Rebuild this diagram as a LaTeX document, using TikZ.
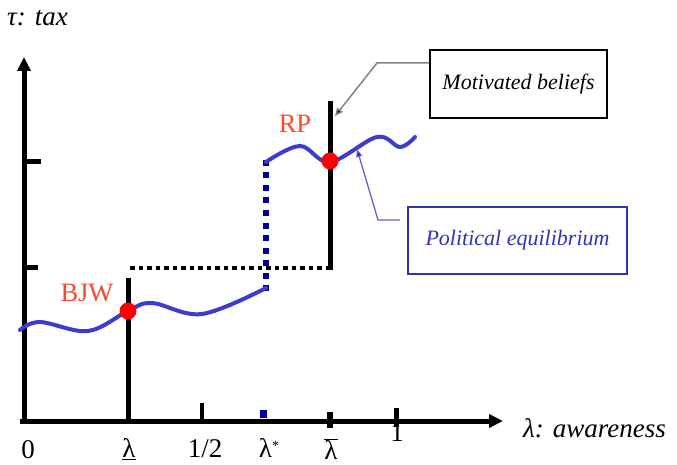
\documentclass[tikz,border=0pt]{standalone}
\usepackage{fontspec}
\setmainfont{Liberation Serif}
\usetikzlibrary{arrows.meta}
\definecolor{curveblue}{RGB}{60,60,205}
\definecolor{navy}{RGB}{0,0,150}
\definecolor{lblred}{RGB}{255,70,40}
\definecolor{boxblue}{RGB}{50,50,185}
\definecolor{callgray}{RGB}{130,130,130}
\definecolor{callblue}{RGB}{100,100,190}
\tikzset{
  axis/.style={line width=5pt, -{Triangle[length=14pt,width=13pt]}},
  thick5/.style={line width=5pt},
  wave/.style={line width=4pt, curveblue, line cap=round},
  blackdots/.style={line width=4.5pt, dash pattern=on 4.5pt off 4pt},
  bluedots/.style={line width=6pt, navy, dash pattern=on 6pt off 6.5pt},
  eqdot/.style={circle, fill=red, minimum size=17pt, inner sep=0pt},
  tlabel/.style={font=\fontsize{27}{29}\selectfont, inner sep=0pt},
  plabel/.style={font=\fontsize{26.5}{28}\selectfont, text=lblred, inner sep=0pt},
  callbox/.style={draw, line width=1.5pt, font=\fontsize{22}{24}\selectfont\itshape, inner sep=0pt},
}
\begin{document}
\begin{tikzpicture}[x=1pt,y=-1pt]
\useasboundingbox (0,0) rectangle (677,465);
% axes
\coordinate (o) at (20,421);
\coordinate (ytop) at (24,57);
\coordinate (xend) at (503,421);
\coordinate (ybot) at (24,423.5);
\draw[axis] (ybot) -- (ytop);
\draw[axis] (o) -- (xend);
% y ticks
\coordinate (yt1a) at (24,162); \coordinate (yt1b) at (41,162);
\coordinate (yt2a) at (24,267); \coordinate (yt2b) at (38,267);
\draw[thick5] (yt1a) -- (yt1b);
\draw[thick5] (yt2a) -- (yt2b);
% x ticks
\coordinate (th1) at (202,403); \coordinate (th2) at (202,421);
\draw[line width=3.5pt] (th1) -- (th2);
\fill[navy] (259.5,410) rectangle (267,418);
\coordinate (tb1) at (330,412); \coordinate (tb2) at (330,428);
\draw[line width=5.5pt] (tb1) -- (tb2);
\coordinate (t11) at (396,408); \coordinate (t12) at (396,427);
\draw[line width=5pt] (t11) -- (t12);
% lambda underline vertical
\coordinate (lu1) at (128,278); \coordinate (lu2) at (128,421);
\draw[thick5] (lu1) -- (lu2);
% black dotted horizontal
\coordinate (bd1) at (130,268); \coordinate (bd2) at (330,268);
\draw[blackdots] (bd1) -- (bd2);
% lambda bar vertical
\coordinate (lb1) at (330,101); \coordinate (lb2) at (330,270);
\draw[thick5] (lb1) -- (lb2);
% blue dotted vertical
\coordinate (bv1) at (266,160); \coordinate (bv2) at (266,292);
\draw[bluedots] (bv1) -- (bv2);
% wavy curves
\draw[wave] plot[smooth, tension=0.6] coordinates {(20,330) (40,322) (88,331) (128,311) (152,303) (202,314) (266,288)};
\draw[wave] plot[smooth, tension=0.6] coordinates {(266,162) (300,146) (330,162) (377,137) (400,147) (415,137)};
% equilibrium dots
\node[eqdot] (bjw) at (128,311) {};
\node[eqdot] (rp) at (330,161) {};
\node[plabel] (bjwl) at (87,293) {BJW};
\node[plabel] (rpl) at (295,124) {RP};
% axis labels
\node[tlabel, anchor=west] (tau) at (7,18) {\itshape τ: tax};
\node[tlabel, anchor=west] (aw) at (523,428) {\itshape λ: awareness};
\node[tlabel] (l0) at (28,450) {0};
\node[tlabel] (lu) at (129,449) {\underline{λ}};
\node[tlabel] (lh) at (205,449) {1/2};
\node[tlabel] (ls) at (269,448) {λ\raisebox{7pt}{\fontsize{14}{14}\selectfont *}};
\node[tlabel] (lbar) at (331,449) {$\overline{\hbox{λ}}$};
\node[tlabel] (l1) at (397,433) {1};
% callout boxes
\node[callbox, minimum width=177pt, minimum height=68pt] (mb) at (518.5,84) {Motivated beliefs};
\node[callbox, draw=boxblue, text=boxblue, minimum width=219pt, minimum height=67pt] (pe) at (517.5,240.5) {Political equilibrium};
% callout lines
\coordinate (mk) at (377,63);
\coordinate (mt) at (335,116);
\draw[callgray, line width=1.5pt, -{Triangle[length=8pt,width=7pt,fill=black]}] (mb.west |- mk) -- (mk) -- (mt);
\coordinate (pk0) at (400,220);
\coordinate (pk) at (378,220);
\coordinate (pt) at (357,149);
\draw[callblue, line width=1.3pt, -{Triangle[length=8pt,width=6pt,fill=navy]}] (pk0) -- (pk) -- (pt);
\end{tikzpicture}
\end{document}
